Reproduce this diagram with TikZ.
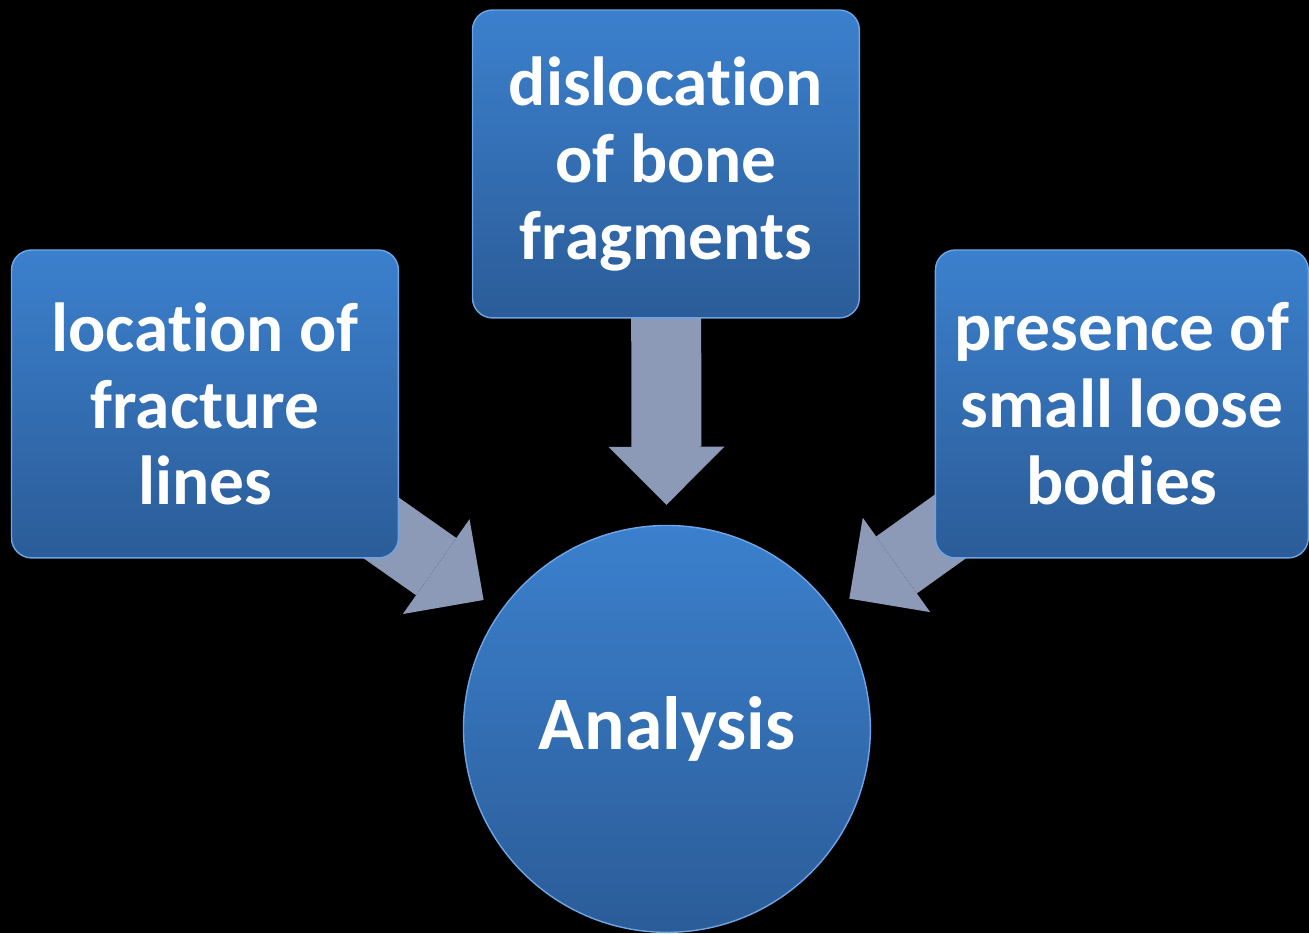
\documentclass[tikz,border=0pt]{standalone}
\usepackage{fontspec}
\setmainfont{Carlito}[Ligatures=NoCommon]
\usetikzlibrary{arrows.meta}
\definecolor{boxtop}{RGB}{59,128,205}
\definecolor{boxbottom}{RGB}{43,92,152}
\definecolor{boxedge}{RGB}{110,165,230}
\definecolor{arrowgray}{RGB}{140,154,184}
\pgfdeclarelayer{back}
\pgfsetlayers{back,main}
\begin{document}
\begin{tikzpicture}[x=0.02cm,y=-0.02cm]
    \tikzstyle{every node}=[inner sep=0pt,align=center,text=white,font=\bfseries\fontsize{39.5}{43.8}\selectfont]
    \tikzstyle{factor}=[rectangle,rounded corners=0.4cm,minimum width=7.74cm,minimum height=6.16cm,top color=boxtop,bottom color=boxbottom,draw=boxedge,line width=0.8pt]
    \tikzstyle{hub}=[circle,minimum size=8.14cm,top color=boxtop,bottom color=boxbottom,draw=boxedge,line width=0.8pt,font=\bfseries\fontsize{43}{48}\selectfont]
    \tikzstyle{flow}=[arrowgray,line width=1.4cm,shorten >=0.4cm,-{Triangle[length=1.16cm,width=2.32cm,line width=0pt]}]
    \draw (205,404) node[factor] (location) {location of\\fracture\\lines};
    \draw (666,164) node[factor] (dislocation) {dislocation\\of bone\\fragments};
    \draw (1122,404) node[factor,minimum width=7.46cm] (presence) {presence of\\small loose\\bodies};
    \draw (667,729) node[hub] (analysis) {Analysis};
    \begin{pgfonlayer}{back}
    \fill[black] (0,0) rectangle (1309,933);
    \draw[flow] (dislocation.center) -- (analysis);
    \draw[flow] (location.center) -- (analysis);
    \draw[flow] (presence.center) -- (analysis);
    \end{pgfonlayer}
\end{tikzpicture}
\end{document}
